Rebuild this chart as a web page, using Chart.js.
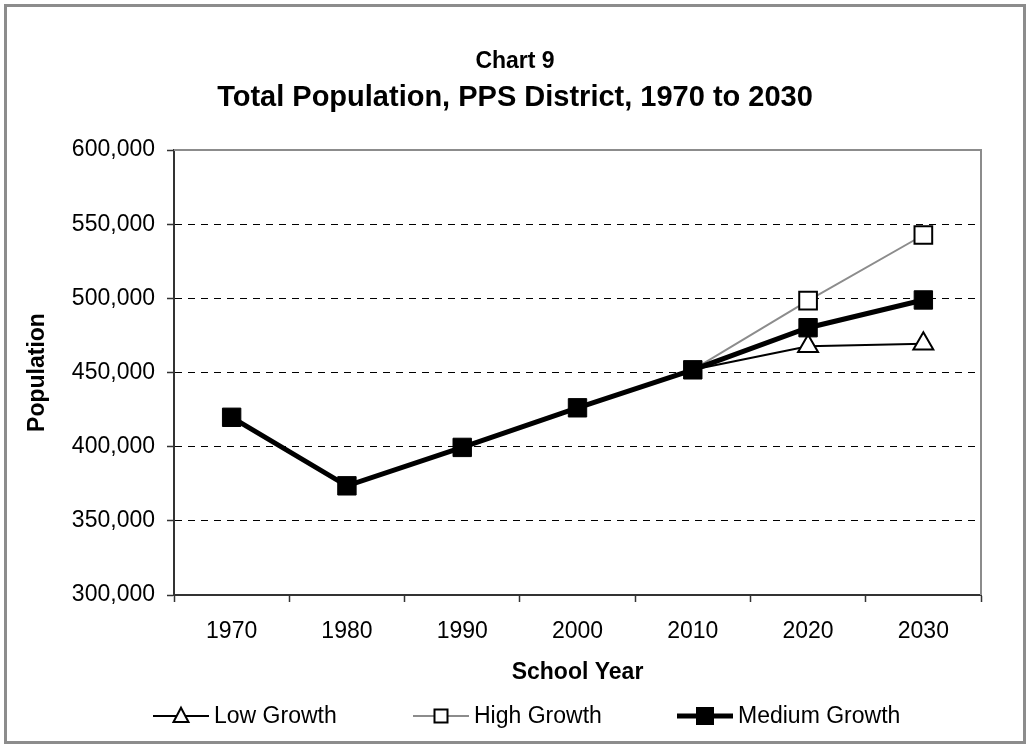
<!DOCTYPE html>
<html><head><meta charset="utf-8">
<script src="https://cdn.jsdelivr.net/npm/chart.js@4.4.0/dist/chart.umd.min.js"></script>
<style>html,body{margin:0;padding:0;background:#fff}canvas{display:block}</style>
</head><body>
<canvas id="c" width="1030" height="748"></canvas>
<script>
// ---- data ----
const years = ['1970', '1980', '1990', '2000', '2010', '2020', '2030'];
const seriesNames = ['Low Growth', 'High Growth', 'Medium Growth'];
const lowGrowth    = [419800, 373600, 399500, 426200, 451800, 467700, 469300];
const highGrowth   = [419800, 373600, 399500, 426200, 451800, 498500, 542700];
const mediumGrowth = [419800, 373600, 399500, 426200, 451800, 480200, 498900];
const yTickValues  = [300000, 350000, 400000, 450000, 500000, 550000, 600000];
const titleLines   = ['Chart 9', 'Total Population, PPS District, 1970 to 2030'];
const xAxisTitle   = 'School Year';
const yAxisTitle   = 'Population';

const FONT = "'Liberation Sans', Arial, sans-serif";
Chart.defaults.font.family = FONT;
Chart.defaults.color = '#000';

const frame = {
  id: 'frame',
  beforeDraw(chart) {
    const ctx = chart.ctx;
    ctx.save();
    ctx.fillStyle = '#fff';
    ctx.fillRect(0, 0, chart.width, chart.height);
    ctx.strokeStyle = '#8c8c8c';
    ctx.lineWidth = 3;
    ctx.strokeRect(5.5, 5.5, chart.width - 11, chart.height - 11);
    // titles
    ctx.fillStyle = '#000';
    ctx.textAlign = 'center';
    ctx.textBaseline = 'alphabetic';
    ctx.font = 'bold 23px ' + FONT;
    ctx.fillText(titleLines[0], chart.width / 2, 67.5);
    ctx.font = 'bold 29px ' + FONT;
    ctx.fillText(titleLines[1], chart.width / 2, 105.5);
    ctx.restore();
  },
  beforeDatasetsDraw(chart) {
    const {ctx, chartArea: a} = chart;
    ctx.save();
    ctx.strokeStyle = '#8c8c8c';
    ctx.lineWidth = 2;
    ctx.beginPath();
    ctx.moveTo(a.left, a.top);
    ctx.lineTo(a.right, a.top);
    ctx.lineTo(a.right, a.bottom);
    ctx.stroke();
    ctx.restore();
  }
};

function drawMarker(ctx, style, x, y, s, fill, stroke, lw) {
  ctx.save();
  ctx.fillStyle = fill; ctx.strokeStyle = stroke; ctx.lineWidth = lw;
  ctx.beginPath();
  if (style === 'triangle') {
    ctx.moveTo(x, y - s * 0.55);
    ctx.lineTo(x + s * 0.5, y + s * 0.4);
    ctx.lineTo(x - s * 0.5, y + s * 0.4);
    ctx.closePath();
  } else {
    ctx.rect(x - s / 2, y - s / 2, s, s);
  }
  ctx.fill(); ctx.stroke();
  ctx.restore();
}

const customLegend = {
  id: 'customLegend',
  afterDraw(chart) {
    const ctx = chart.ctx;
    const starts = [153, 413, 677];
    const y = 716;
    const markerSizes = [15, 13, 16];
    seriesNames.forEach((name, i) => {
      const ds = chart.data.datasets.find(d => d.label === name);
      const x0 = starts[i], x1 = x0 + 56, xm = (x0 + x1) / 2;
      ctx.save();
      ctx.strokeStyle = ds.borderColor;
      ctx.lineWidth = ds.borderWidth;
      ctx.beginPath(); ctx.moveTo(x0, y); ctx.lineTo(x1, y); ctx.stroke();
      ctx.restore();
      drawMarker(ctx, ds.pointStyle, xm, y, markerSizes[i], ds.pointBackgroundColor, ds.pointBorderColor, 2);
      ctx.save();
      ctx.fillStyle = '#000';
      ctx.font = '23px ' + FONT;
      ctx.textBaseline = 'middle';
      ctx.textAlign = 'left';
      ctx.fillText(name, x1 + 5, y + 1);
      ctx.restore();
    });
  }
};

// markers of the scenario series are hidden where they coincide with the medium series
const hiddenWhereShared = (arr, r) => c => (arr[c.dataIndex] === mediumGrowth[c.dataIndex] ? 0 : r);

new Chart(document.getElementById('c'), {
  type: 'line',
  data: {
    labels: years,
    datasets: [
      {
        label: seriesNames[0], data: lowGrowth, order: 1,
        borderColor: '#000', borderWidth: 2,
        pointStyle: 'triangle', pointRadius: hiddenWhereShared(lowGrowth, 11.5), pointBorderWidth: 2,
        pointBackgroundColor: '#fff', pointBorderColor: '#000',
        tension: 0
      },
      {
        label: seriesNames[1], data: highGrowth, order: 2,
        borderColor: '#8c8c8c', borderWidth: 2,
        pointStyle: 'rect', pointRadius: hiddenWhereShared(highGrowth, 12.5), pointBorderWidth: 2,
        pointBackgroundColor: '#fff', pointBorderColor: '#000',
        tension: 0
      },
      {
        label: seriesNames[2], data: mediumGrowth, order: 0,
        borderColor: '#000', borderWidth: 5,
        pointStyle: 'rect', pointRadius: 13, pointBorderWidth: 1,
        pointBackgroundColor: '#000', pointBorderColor: '#000',
        tension: 0
      }
    ]
  },
  options: {
    responsive: false,
    animation: false,
    events: [],
    layout: { padding: { top: 150, right: 49, bottom: 53, left: 0 } },
    plugins: {
      legend: { display: false },
      tooltip: { enabled: false },
      title: { display: false },
      subtitle: { display: false }
    },
    scales: {
      x: {
        offset: true,
        grid: {
          offset: true, drawOnChartArea: false, drawTicks: true,
          tickLength: 7, tickColor: '#333', tickWidth: 1.5
        },
        border: { display: true, color: '#333', width: 2 },
        ticks: { font: { size: 23, family: FONT }, color: '#000', padding: 16, maxRotation: 0, autoSkip: false },
        title: {
          display: true, text: xAxisTitle,
          font: { size: 23, weight: 'bold', family: FONT }, color: '#000',
          padding: { top: 0, bottom: 8.2 }
        },
        afterFit(axis) { axis.height = 100; }
      },
      y: {
        min: 300000, max: 600000,
        afterBuildTicks(axis) { axis.ticks = yTickValues.map(v => ({ value: v })); },
        grid: {
          color: c => (c.tick && (c.tick.value === 300000 || c.tick.value === 600000)) ? 'rgba(0,0,0,0)' : '#000',
          lineWidth: 1,
          drawTicks: true, tickLength: 7, tickColor: '#333', tickWidth: 1.5, tickBorderDash: []
        },
        border: { display: true, color: '#333', width: 2, dash: [7, 6] },
        ticks: {
          font: { size: 23, family: FONT }, color: '#000', padding: 12,
          callback: v => Number(v).toLocaleString('en-US')
        },
        title: {
          display: true, text: yAxisTitle,
          font: { size: 23, weight: 'bold', family: FONT }, color: '#000',
          padding: { top: 24, bottom: 0 }
        },
        afterFit(axis) { axis.width = 174; }
      }
    }
  },
  plugins: [frame, customLegend]
});
</script>
</body></html>
